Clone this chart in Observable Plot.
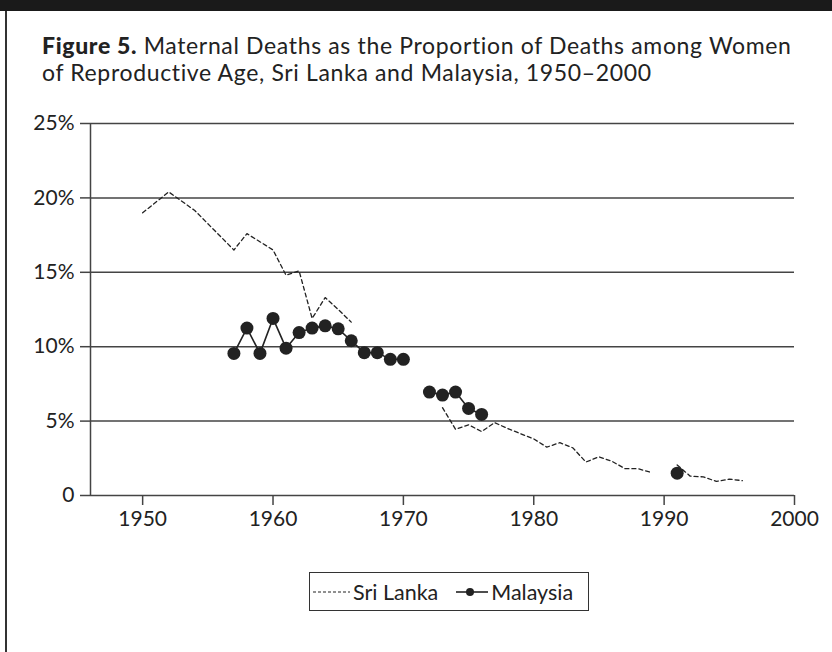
<!DOCTYPE html>
<html>
<head>
<meta charset="utf-8">
<script src="https://cdn.jsdelivr.net/npm/d3@7"></script>
<script src="https://cdn.jsdelivr.net/npm/@observablehq/plot@0.6"></script>
<style>
  html, body { margin: 0; padding: 0; background: #fff; }
  #wrap { position: relative; width: 832px; height: 652px; overflow: hidden; font-family: Lato, "Open Sans", sans-serif; color: #222; }
  #topbar { position: absolute; left: 0; top: 0; width: 832px; height: 11px; background: #1a1a1a; }
  #leftbar { position: absolute; left: 5px; top: 11px; width: 2px; height: 641px; background: #333; }
  #title { position: absolute; left: 42px; top: 32px; font-size: 23px; letter-spacing: 0.65px; line-height: 27px; white-space: nowrap; }
  #title b { font-weight: 900; }
  #chart { position: absolute; left: 0; top: 100px; }
  #chart svg text { font-size: 21px !important; }
  #legend { position: absolute; left: 309px; top: 572px; width: 280px; height: 39px; border: 1.5px solid #333; box-sizing: border-box; display: flex; align-items: center; font-size: 21.5px; }
  #legend svg { display: block; }
</style>
</head>
<body>
<div id="wrap">
  <div id="topbar"></div>
  <div id="leftbar"></div>
  <div id="title"><b>Figure 5.</b> Maternal Deaths as the Proportion of Deaths among Women<br>of Reproductive Age, Sri Lanka and Malaysia, 1950–2000</div>
  <div id="chart"></div>
  <div id="legend"></div>
</div>
<script>
// Sri Lanka (dashed), null marks a gap in the series
const sriLankaYears = [1950, 1952, 1954, 1957, 1958, 1960, 1961, 1962, 1963, 1964, 1965, 1966, 1967,
  1973, 1974, 1975, 1976, 1977, 1978, 1979, 1980, 1981, 1982, 1983, 1984, 1985, 1986, 1987, 1988, 1989, 1990,
  1991, 1992, 1993, 1994, 1995, 1996];
const sriLankaValues = [19.0, 20.4, 19.15, 16.5, 17.6, 16.5, 14.8, 15.1, 11.9, 13.3, 12.5, 11.65, null,
  5.9, 4.45, 4.75, 4.3, 4.9, 4.5, 4.15, 3.8, 3.25, 3.55, 3.2, 2.25, 2.6, 2.3, 1.8, 1.8, 1.55, null,
  2.05, 1.3, 1.25, 0.95, 1.1, 1.0];
// Malaysia (solid with dots)
const malaysiaYears = [1957, 1958, 1959, 1960, 1961, 1962, 1963, 1964, 1965, 1966, 1967, 1968, 1969, 1970, 1971,
  1972, 1973, 1974, 1975, 1976, 1977, 1991];
const malaysiaValues = [9.55, 11.25, 9.55, 11.9, 9.9, 10.95, 11.25, 11.4, 11.2, 10.4, 9.6, 9.6, 9.15, 9.15, null,
  6.95, 6.75, 6.95, 5.85, 5.45, null, 1.5];
const xTicks = [1950, 1960, 1970, 1980, 1990, 2000];
const yTicks = [0, 5, 10, 15, 20, 25];
const seriesNames = ["Sri Lanka", "Malaysia"];

const sriLanka = sriLankaYears.map((year, i) => ({year, value: sriLankaValues[i]}));
const malaysia = malaysiaYears.map((year, i) => ({year, value: malaysiaValues[i]}));
const ink = "#222";

const chart = Plot.plot({
  width: 832,
  height: 450,
  marginLeft: 90,
  marginRight: 38,
  marginTop: 23,
  marginBottom: 55,
  style: {fontFamily: "Lato, 'Open Sans', sans-serif", fontSize: "21px", color: ink, background: "transparent"},
  x: {domain: [1946, 2000]},
  y: {domain: [0, 25]},
  marks: [
    Plot.ruleY(yTicks, {stroke: "#444", strokeWidth: 1.5}),
    Plot.ruleX([1946], {y1: 0, y2: 25, stroke: "#444", strokeWidth: 1.5}),
    Plot.axisX({ticks: xTicks, tickFormat: d => String(d), tickSize: 10, tickPadding: 6, stroke: "#444", strokeWidth: 1.5, label: null}),
    Plot.axisY({ticks: yTicks, tickFormat: d => d === 0 ? "0" : d + "%", tickSize: 10, tickPadding: 6, stroke: "#444", strokeWidth: 1.5, label: null}),
    Plot.line(sriLanka, {x: "year", y: "value", stroke: ink, strokeWidth: 1.3, strokeDasharray: "4,3"}),
    Plot.line(malaysia, {x: "year", y: "value", stroke: ink, strokeWidth: 1.6}),
    Plot.dot(malaysia.filter(d => d.value != null), {x: "year", y: "value", r: 6.5, fill: ink, stroke: "none"})
  ]
});
document.getElementById("chart").appendChild(chart);

// Legend
const lg = document.getElementById("legend");
function sample(kind) {
  const svg = d3.create("svg").attr("width", kind === "dash" ? 40 : 34).attr("height", 14);
  if (kind === "dash") {
    svg.append("line").attr("x1", 2).attr("x2", 39).attr("y1", 7).attr("y2", 7)
      .attr("stroke", ink).attr("stroke-width", 1.2).attr("stroke-dasharray", "3,2");
  } else {
    svg.append("line").attr("x1", 1).attr("x2", 33).attr("y1", 7).attr("y2", 7)
      .attr("stroke", ink).attr("stroke-width", 1.6);
    svg.append("circle").attr("cx", 15).attr("cy", 7).attr("r", 4).attr("fill", ink);
  }
  return svg.node();
}
const s1 = sample("dash"); s1.style.marginLeft = "1px"; lg.appendChild(s1);
const t1 = document.createElement("span"); t1.textContent = seriesNames[0]; t1.style.marginLeft = "2px"; lg.appendChild(t1);
const s2 = sample("solid"); s2.style.marginLeft = "17px"; lg.appendChild(s2);
const t2 = document.createElement("span"); t2.textContent = seriesNames[1]; t2.style.marginLeft = "2px"; lg.appendChild(t2);
</script>
</body>
</html>
